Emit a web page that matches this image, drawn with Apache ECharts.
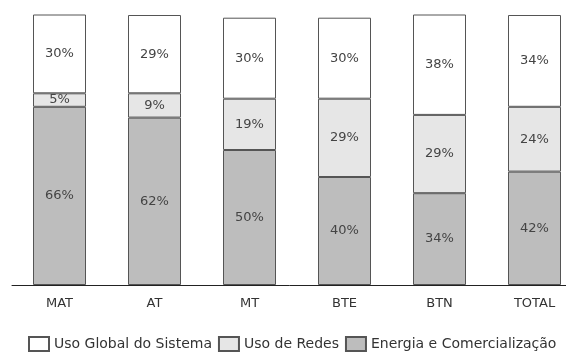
<!DOCTYPE html>
<html>
<head>
<meta charset="utf-8">
<script src="https://cdn.jsdelivr.net/npm/echarts@6/dist/echarts.min.js"></script>
<style>html,body{margin:0;padding:0;background:#fff}#c{width:566px;height:356px}</style>
</head>
<body>
<div id="c"></div>
<script>
const categories = ['MAT', 'AT', 'MT', 'BTE', 'BTN', 'TOTAL'];
const energia = [66, 62, 50, 40, 34, 42];
const redes = [5, 9, 19, 29, 29, 24];
const global = [30, 29, 30, 30, 38, 34];
const seriesNames = ['Uso Global do Sistema', 'Uso de Redes', 'Energia e Comercialização'];

const font = 'DejaVu Sans';
const chart = echarts.init(document.getElementById('c'));
const lbl = {show: true, position: 'inside', color: '#444', fontFamily: font, fontSize: 13, formatter: p => p.value + '%'};
const border = {borderColor: '#555', borderWidth: 1};
chart.setOption({
  animation: false,
  backgroundColor: '#fff',
  grid: {left: 12, width: 570, top: 15, bottom: 71, outerBoundsMode: 'none', containLabel: false},
  legend: {
    data: seriesNames,
    left: 23, top: 331,
    itemWidth: 20, itemHeight: 14, itemGap: 6,
    textStyle: {fontFamily: font, fontSize: 14, color: '#333'},
    icon: 'rect'
  },
  xAxis: {
    type: 'category', data: categories,
    axisLine: {lineStyle: {color: '#222', width: 1}},
    axisTick: {show: false},
    axisLabel: {fontFamily: font, fontSize: 13, color: '#333', margin: 12}
  },
  yAxis: {type: 'value', min: 0, max: 100, show: false, splitLine: {show: false}},
  series: [
    {name: seriesNames[2], type: 'bar', stack: 's', data: energia, barWidth: 53,
     itemStyle: Object.assign({color: '#bdbdbd'}, border), label: lbl},
    {name: seriesNames[1], type: 'bar', stack: 's', data: redes,
     itemStyle: Object.assign({color: '#e6e6e6'}, border), label: lbl},
    {name: seriesNames[0], type: 'bar', stack: 's', data: global,
     itemStyle: Object.assign({color: '#ffffff'}, border), label: lbl}
  ]
});
</script>
</body>
</html>
